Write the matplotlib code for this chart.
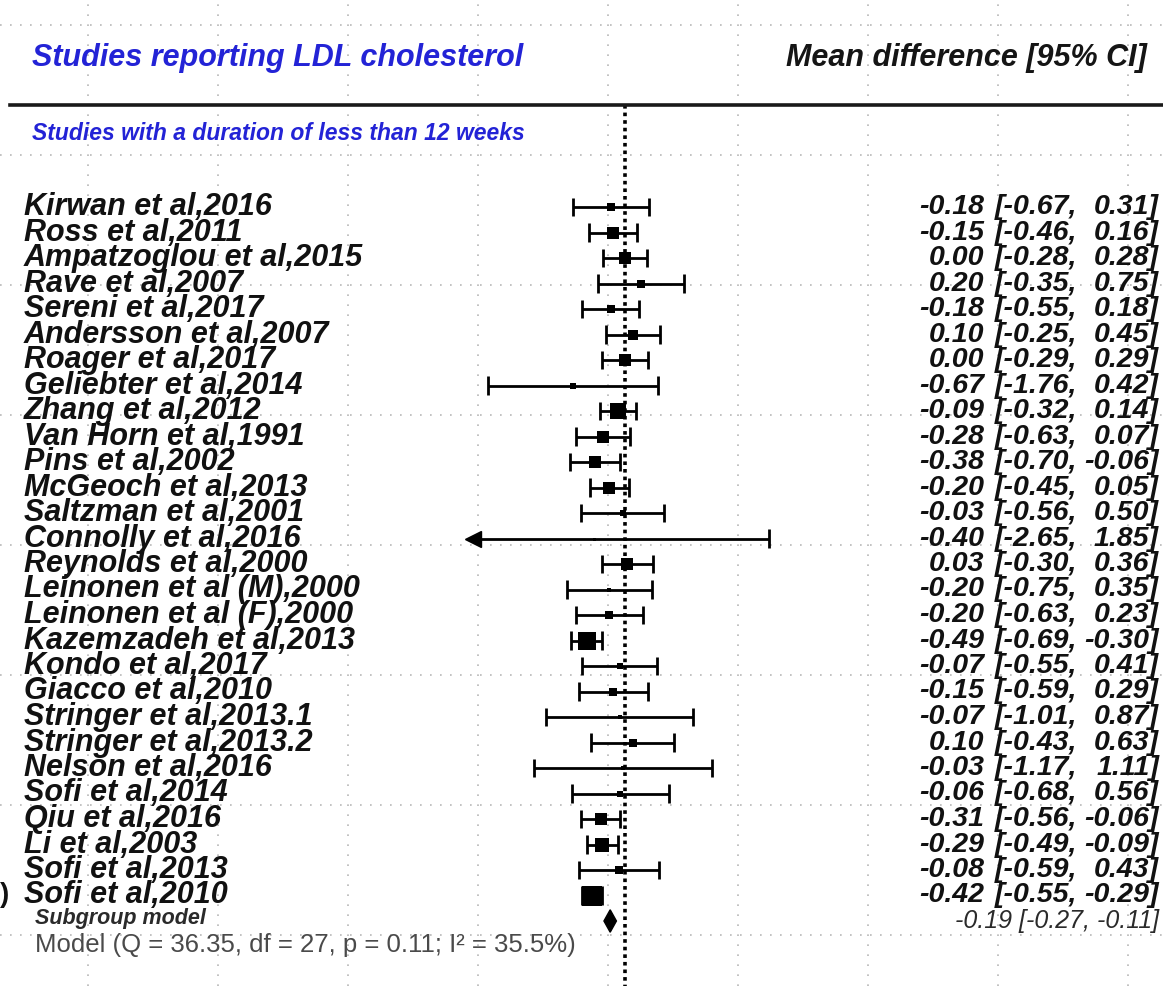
import matplotlib
matplotlib.use("Agg")
import matplotlib.pyplot as plt
import matplotlib.transforms as mtransforms
from matplotlib.patches import Polygon

# Data
studies = [
    "Kirwan et al,2016", "Ross et al,2011", "Ampatzoglou et al,2015", "Rave et al,2007",
    "Sereni et al,2017", "Andersson et al,2007", "Roager et al,2017", "Geliebter et al,2014",
    "Zhang et al,2012", "Van Horn et al,1991", "Pins et al,2002", "McGeoch et al,2013",
    "Saltzman et al,2001", "Connolly et al,2016", "Reynolds et al,2000",
    "Leinonen et al (M),2000", "Leinonen et al (F),2000", "Kazemzadeh et al,2013",
    "Kondo et al,2017", "Giacco et al,2010", "Stringer et al,2013.1", "Stringer et al,2013.2",
    "Nelson et al,2016", "Sofi et al,2014", "Qiu et al,2016", "Li et al,2003",
    "Sofi et al,2013", "Sofi et al,2010",
]
estimate = [-0.18, -0.15, 0.00, 0.20, -0.18, 0.10, 0.00, -0.67, -0.09, -0.28, -0.38, -0.20,
            -0.03, -0.40, 0.03, -0.20, -0.20, -0.49, -0.07, -0.15, -0.07, 0.10, -0.03, -0.06,
            -0.31, -0.29, -0.08, -0.42]
ci_low = [-0.67, -0.46, -0.28, -0.35, -0.55, -0.25, -0.29, -1.76, -0.32, -0.63, -0.70, -0.45,
          -0.56, -2.65, -0.30, -0.75, -0.63, -0.69, -0.55, -0.59, -1.01, -0.43, -1.17, -0.68,
          -0.56, -0.49, -0.59, -0.55]
ci_high = [0.31, 0.16, 0.28, 0.75, 0.18, 0.45, 0.29, 0.42, 0.14, 0.07, -0.06, 0.05,
           0.50, 1.85, 0.36, 0.35, 0.23, -0.30, 0.41, 0.29, 0.87, 0.63, 1.11, 0.56,
           -0.06, -0.09, 0.43, -0.29]
weights = [2.1, 3.8, 3.8, 2.1, 2.5, 2.9, 3.8, 1.3, 5.0, 3.8, 3.8, 3.8, 1.7, 0.1, 3.8,
           0.9, 2.5, 6.2, 1.7, 2.1, 0.3, 2.5, 0.4, 1.3, 3.8, 4.6, 2.1, 7.0]
pooled = [-0.19, -0.27, -0.11]
model_text = "Model (Q = 36.35, df = 27, p = 0.11; I\u00b2 = 35.5%)"

W, H = 1163, 986
X0_PX, PX_PER_UNIT = 625, 78.0      # where 0 sits, pixels per unit
ROW0_PX, ROW_PX = 207, 25.5         # first row centre, row spacing
XCLIP = -1.95                       # left limit of the forest axis

BLUE = "#2323d6"
FONT = "Liberation Sans"

fig = plt.figure(figsize=(W / 100, H / 100), dpi=100)

# background dotted grid
bg = fig.add_axes([0, 0, 1, 1])
bg.set_xlim(0, W)
bg.set_ylim(H, 0)
bg.set_xticks(range(88, W, 130))
bg.set_yticks(range(25, H, 130))
bg.tick_params(length=0, labelbottom=False, labelleft=False)
for s in bg.spines.values():
    s.set_visible(False)
bg.grid(True, color="#b8b8b8", lw=1.2, ls=(0, (1, 5)))

# forest axes
ax = fig.add_axes([0, 0, 1, 1], facecolor="none")
ax.set_xlim(-X0_PX / PX_PER_UNIT, (W - X0_PX) / PX_PER_UNIT)
ax.set_ylim((H - ROW0_PX) / ROW_PX, -ROW0_PX / ROW_PX)
ax.axis("off")
tr = mtransforms.blended_transform_factory(ax.transAxes, ax.transData)

def px(x):
    return x / W

n = len(studies)
rows = list(range(n))

# null line
ax.vlines(0, -4, n + 4, colors="black", lw=2.6, linestyles=(0, (1, 1.1)), zorder=1)

# header
ax.text(px(32), -5.84, "Studies reporting LDL cholesterol", transform=tr, ha="left", va="center",
        fontsize=22, fontweight="bold", fontstyle="italic", color=BLUE, family=FONT)
ax.text(px(1147), -5.84, "Mean difference [95% CI]", transform=tr, ha="right", va="center",
        fontsize=22, fontweight="bold", fontstyle="italic", color="#151515", family=FONT)
ax.axhline(-4, xmin=px(10), xmax=1, color="#1a1a1a", lw=2.6)
ax.text(px(32), -2.9, "Studies with a duration of less than 12 weeks", transform=tr, ha="left",
        va="center", fontsize=16.5, fontweight="bold", fontstyle="italic", color=BLUE, family=FONT)

# study rows
wmin, wmax = min(weights), max(weights)
for i in rows:
    est, lo, hi = estimate[i], ci_low[i], ci_high[i]
    lo_c = max(lo, XCLIP)
    ax.hlines(i, lo_c, hi, colors="black", lw=2, zorder=2)
    ax.vlines(hi, i - 0.36, i + 0.36, colors="black", lw=2, zorder=2)
    if lo < XCLIP:
        ax.plot(lo_c, i, marker="<", ms=11, color="black", zorder=3)
    else:
        ax.vlines(lo, i - 0.36, i + 0.36, colors="black", lw=2, zorder=2)
    side = 3 + 17 * (weights[i] - wmin) / (wmax - wmin)
    ax.scatter(est, i, s=(side * 0.72) ** 2, marker="s", color="black", linewidths=0, zorder=4)

    ax.text(px(24), i, studies[i], transform=tr, ha="left", va="center", fontsize=22,
            fontweight="bold", fontstyle="italic", color="#111111", family=FONT)
    ax.text(px(984), i, f"{est:.2f}", transform=tr, ha="right", va="center", fontsize=20.5,
            fontweight="bold", fontstyle="italic", color="#111111", family=FONT)
    ax.text(px(1077), i, f"[{lo:.2f},", transform=tr, ha="right", va="center", fontsize=20.5,
            fontweight="bold", fontstyle="italic", color="#111111", family=FONT)
    ax.text(px(1159), i, f"{hi:.2f}]", transform=tr, ha="right", va="center", fontsize=20.5,
            fontweight="bold", fontstyle="italic", color="#111111", family=FONT)

ax.text(px(0), n - 1, ")", transform=tr, ha="left", va="center", fontsize=20,
        fontweight="bold", color="#111111", family=FONT)

# pooled estimate
yp = n
ax.add_patch(Polygon([(pooled[1], yp), (pooled[0], yp - 0.44), (pooled[2], yp), (pooled[0], yp + 0.44)],
                     closed=True, color="black", zorder=4))
ax.text(px(35), yp - 0.1, "Subgroup model", transform=tr, ha="left", va="center", fontsize=15.5,
        fontweight="bold", fontstyle="italic", color="#2a2a2a", family=FONT)
ax.text(px(1159), yp, f"{pooled[0]:.2f} [{pooled[1]:.2f}, {pooled[2]:.2f}]", transform=tr,
        ha="right", va="center", fontsize=18, fontstyle="italic", color="#2a2a2a", family=FONT)
ax.text(px(35), yp + 0.95, model_text, transform=tr, ha="left", va="center", fontsize=18.5,
        color="#4a4a4a", family=FONT)

fig.savefig("out.png", dpi=100)
